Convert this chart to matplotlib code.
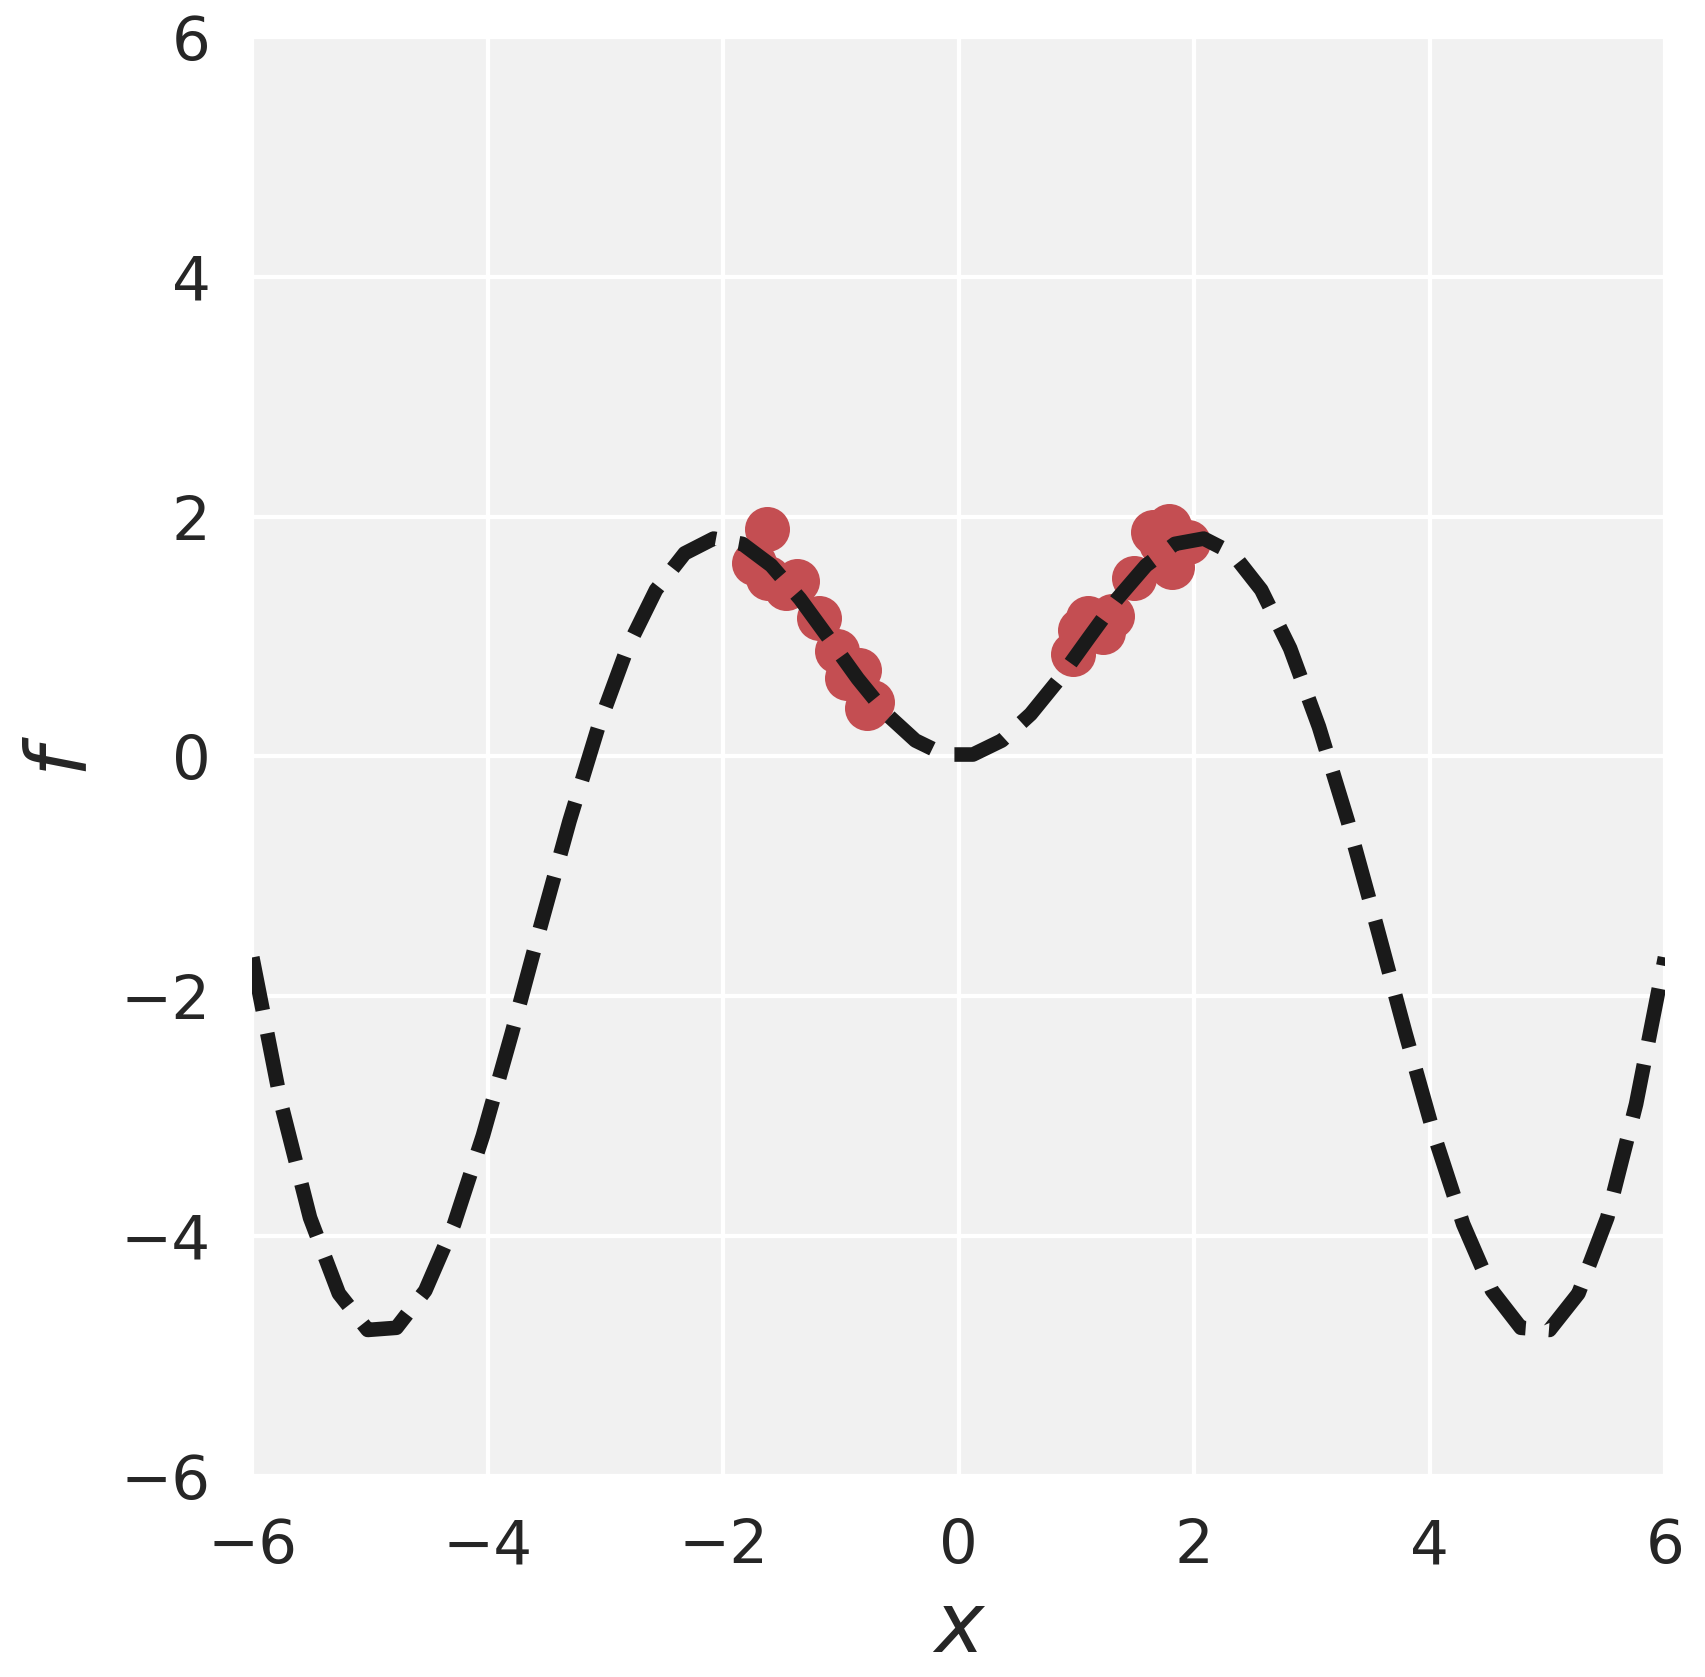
import numpy as np
import matplotlib
matplotlib.use('Agg')
import matplotlib.pyplot as plt

# sampled curve (50 evenly spaced points from -6 to 6)
x_curve = [-6.0, -5.755, -5.51, -5.265, -5.02, -4.776, -4.531, -4.286, -4.041, -3.796,
           -3.551, -3.306, -3.061, -2.816, -2.571, -2.327, -2.082, -1.837, -1.592, -1.347,
           -1.102, -0.857, -0.612, -0.367, -0.122,
           0.122, 0.367, 0.612, 0.857, 1.102, 1.347, 1.592, 1.837, 2.082, 2.327,
           2.571, 2.816, 3.061, 3.306, 3.551, 3.796, 4.041, 4.286, 4.531, 4.776,
           5.02, 5.265, 5.51, 5.755, 6.0]
f_half = [-1.677, -2.900, -3.848, -4.480, -4.784, -4.766, -4.456, -3.901, -3.163, -2.310,
          -1.414, -0.541, 0.246, 0.900, 1.388, 1.693, 1.816, 1.772, 1.592, 1.313,
          0.983, 0.648, 0.352, 0.132, 0.015]
f_curve = f_half + f_half[::-1]

# observed points
x_obs = [-1.63, -1.74, -1.62, -1.47, -1.37, -1.19, -1.03, -0.85, -0.95, -0.74, -0.78,
         0.975, 1.03, 1.095, 1.23, 1.30, 1.49, 1.65, 1.79, 1.81, 1.95, 1.72]
f_obs = [1.90, 1.61, 1.49, 1.40, 1.46, 1.15, 0.88, 0.72, 0.65, 0.45, 0.40,
         0.85, 1.05, 1.15, 1.04, 1.17, 1.49, 1.87, 1.92, 1.58, 1.79, 1.78]

ticks = [-6, -4, -2, 0, 2, 4, 6]

fig = plt.figure(figsize=(17.05, 16.77), dpi=100)
ax = fig.add_axes([0.148, 0.12, 0.8285, 0.858])
ax.set_facecolor('#f1f1f1')
ax.grid(True, color='white', linewidth=3)
ax.set_axisbelow(True)
for s in ax.spines.values():
    s.set_visible(False)

ax.scatter(x_obs, f_obs, s=1050, color='#c44e52', zorder=2, linewidths=0)
ax.plot(x_curve, f_curve, '--', color='#1a1a1a', linewidth=10.5, zorder=3)

ax.set_xlim(-6, 6)
ax.set_ylim(-6, 6)
ax.set_xticks(ticks)
ax.set_yticks(ticks)
ax.tick_params(length=0, labelsize=44, labelcolor='#262626')
ax.tick_params(axis='x', pad=30)
ax.tick_params(axis='y', pad=30)
ax.set_xlabel('$x$', fontsize=60, color='#262626', labelpad=8)
ax.set_ylabel('$f$', fontsize=60, color='#262626', labelpad=12)

fig.savefig('out.png', dpi=100)
